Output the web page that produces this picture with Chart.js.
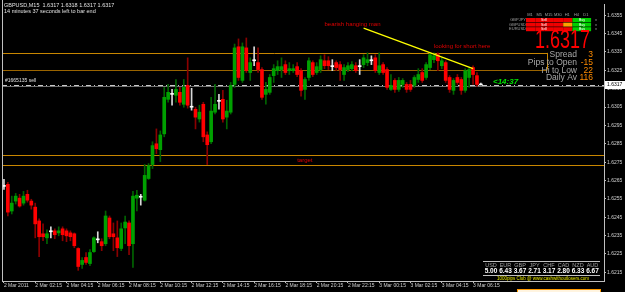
<!DOCTYPE html>
<html>
<head>
<meta charset="utf-8">
<script src="https://cdn.jsdelivr.net/npm/chart.js@4.4.1/dist/chart.umd.min.js"></script>
<style>
  html, body { margin: 0; padding: 0; background: #000; }
  canvas { display: block; }
</style>
</head>
<body>
<canvas id="chart" width="625" height="292"></canvas>
<script>
'use strict';

// GBPUSD M15, 2 Mar 2011 00:15 .. 3 Mar 2011 06:45 (one value per candle)
const open = [
    1.62618, 1.62629, 1.62484, 1.62538, 1.62554, 1.62527, 1.62575, 1.62538, 1.62505, 1.62430,
    1.62360, 1.62338, 1.62371, 1.62376, 1.62365, 1.62387, 1.62376, 1.62365, 1.62360, 1.62280,
    1.62193, 1.62231, 1.62198, 1.62263, 1.62327, 1.62317, 1.62306, 1.62446, 1.62360, 1.62338,
    1.62280, 1.62392, 1.62419, 1.62306, 1.62554, 1.62559, 1.62543, 1.62661, 1.62737, 1.62850,
    1.62818, 1.62904, 1.63092, 1.63119, 1.63114, 1.63130, 1.63065, 1.63168, 1.63049, 1.63038,
    1.62985, 1.63065, 1.62898, 1.62861, 1.63022, 1.63081, 1.63092, 1.62995, 1.63022, 1.63173,
    1.63378, 1.63195, 1.63372, 1.63238, 1.63302, 1.63292, 1.63254, 1.63119, 1.63130, 1.63221,
    1.63248, 1.63254, 1.63281, 1.63248, 1.63248, 1.63270, 1.63248, 1.63146, 1.63211, 1.63292,
    1.63238, 1.63254, 1.63302, 1.63302, 1.63270, 1.63292, 1.63281, 1.63227, 1.63254, 1.63259,
    1.63275, 1.63270, 1.63281, 1.63292, 1.63302, 1.63318, 1.63238, 1.63281, 1.63254, 1.63146,
    1.63195, 1.63146, 1.63173, 1.63173, 1.63173, 1.63168, 1.63200, 1.63238, 1.63211, 1.63265,
    1.63308, 1.63335, 1.63275, 1.63292, 1.63211, 1.63141, 1.63211, 1.63200, 1.63141, 1.63211,
    1.63265, 1.63221, 1.63170
];
const high = [
    1.62656, 1.62640, 1.62565, 1.62580, 1.62575, 1.62591, 1.62597, 1.62548, 1.62527, 1.62441,
    1.62414, 1.62381, 1.62398, 1.62387, 1.62398, 1.62398, 1.62387, 1.62376, 1.62365, 1.62284,
    1.62231, 1.62258, 1.62274, 1.62344, 1.62371, 1.62333, 1.62484, 1.62457, 1.62419, 1.62430,
    1.62419, 1.62457, 1.62430, 1.62591, 1.62597, 1.62575, 1.62737, 1.62742, 1.62861, 1.62931,
    1.62920, 1.63157, 1.63173, 1.63146, 1.63200, 1.63157, 1.63200, 1.63318, 1.63152, 1.63049,
    1.63060, 1.63076, 1.62915, 1.63103, 1.63173, 1.63119, 1.63141, 1.63087, 1.63184, 1.63393,
    1.63421, 1.63399, 1.63426, 1.63318, 1.63378, 1.63372, 1.63265, 1.63184, 1.63227, 1.63281,
    1.63302, 1.63318, 1.63302, 1.63292, 1.63281, 1.63292, 1.63259, 1.63211, 1.63318, 1.63302,
    1.63292, 1.63329, 1.63335, 1.63324, 1.63308, 1.63302, 1.63297, 1.63281, 1.63292, 1.63297,
    1.63292, 1.63308, 1.63335, 1.63345, 1.63329, 1.63335, 1.63345, 1.63292, 1.63265, 1.63227,
    1.63205, 1.63211, 1.63205, 1.63184, 1.63195, 1.63221, 1.63259, 1.63259, 1.63292, 1.63345,
    1.63345, 1.63345, 1.63318, 1.63302, 1.63221, 1.63205, 1.63227, 1.63211, 1.63259, 1.63265,
    1.63275, 1.63238, 1.63180
];
const low = [
    1.62602, 1.62457, 1.62468, 1.62522, 1.62505, 1.62516, 1.62532, 1.62494, 1.62338, 1.62236,
    1.62322, 1.62306, 1.62338, 1.62333, 1.62349, 1.62322, 1.62317, 1.62322, 1.62284, 1.62161,
    1.62172, 1.62193, 1.62187, 1.62258, 1.62311, 1.62268, 1.62295, 1.62333, 1.62268, 1.62236,
    1.62268, 1.62306, 1.62247, 1.62177, 1.62484, 1.62516, 1.62538, 1.62656, 1.62715, 1.62796,
    1.62753, 1.62888, 1.63076, 1.63060, 1.63076, 1.63060, 1.63049, 1.63044, 1.63033, 1.62931,
    1.62968, 1.62861, 1.62737, 1.62850, 1.63012, 1.63038, 1.62968, 1.62931, 1.63012, 1.63157,
    1.63195, 1.63184, 1.63238, 1.63195, 1.63275, 1.63238, 1.63092, 1.63065, 1.63119, 1.63184,
    1.63227, 1.63211, 1.63227, 1.63227, 1.63238, 1.63216, 1.63109, 1.63092, 1.63195, 1.63216,
    1.63227, 1.63238, 1.63259, 1.63254, 1.63248, 1.63248, 1.63195, 1.63195, 1.63243, 1.63248,
    1.63238, 1.63227, 1.63265, 1.63275, 1.63281, 1.63238, 1.63227, 1.63227, 1.63146, 1.63141,
    1.63130, 1.63135, 1.63157, 1.63130, 1.63135, 1.63157, 1.63184, 1.63184, 1.63200, 1.63254,
    1.63292, 1.63248, 1.63259, 1.63184, 1.63130, 1.63119, 1.63173, 1.63119, 1.63130, 1.63157,
    1.63173, 1.63162, 1.63170
];
const close = [
    1.62618, 1.62478, 1.62527, 1.62565, 1.62511, 1.62565, 1.62543, 1.62516, 1.62414, 1.62344,
    1.62344, 1.62360, 1.62371, 1.62355, 1.62376, 1.62355, 1.62349, 1.62344, 1.62295, 1.62182,
    1.62215, 1.62204, 1.62258, 1.62338, 1.62327, 1.62295, 1.62457, 1.62344, 1.62344, 1.62284,
    1.62387, 1.62424, 1.62295, 1.62565, 1.62570, 1.62559, 1.62678, 1.62731, 1.62840, 1.62823,
    1.62898, 1.63103, 1.63130, 1.63119, 1.63146, 1.63076, 1.63157, 1.63060, 1.63049, 1.62995,
    1.63022, 1.62888, 1.62845, 1.63028, 1.63065, 1.63081, 1.62985, 1.63028, 1.63168, 1.63372,
    1.63211, 1.63378, 1.63248, 1.63292, 1.63302, 1.63254, 1.63103, 1.63146, 1.63211, 1.63259,
    1.63270, 1.63270, 1.63238, 1.63259, 1.63259, 1.63227, 1.63141, 1.63200, 1.63302, 1.63227,
    1.63270, 1.63308, 1.63275, 1.63275, 1.63270, 1.63265, 1.63254, 1.63265, 1.63275, 1.63281,
    1.63248, 1.63270, 1.63318, 1.63308, 1.63302, 1.63248, 1.63275, 1.63238, 1.63157, 1.63168,
    1.63146, 1.63195, 1.63195, 1.63146, 1.63146, 1.63211, 1.63227, 1.63195, 1.63281, 1.63335,
    1.63329, 1.63302, 1.63302, 1.63195, 1.63146, 1.63195, 1.63184, 1.63141, 1.63248, 1.63254,
    1.63227, 1.63173, 1.63170
];

// time axis: one label every 8 bars (2 hours)
const tickLabels = [
    '2 Mar 2011', '2 Mar 02:15', '2 Mar 04:15', '2 Mar 06:15', '2 Mar 08:15', '2 Mar 10:15',
    '2 Mar 12:15', '2 Mar 14:15', '2 Mar 16:15', '2 Mar 18:15', '2 Mar 20:15', '2 Mar 22:15',
    '3 Mar 00:15', '3 Mar 02:15', '3 Mar 04:15', '3 Mar 06:15'
];
const barsPerTick = 8;
const shiftBars = 31;       // empty space right of the last candle

const priceTicks = [
    1.6215, 1.6225, 1.6235, 1.6245, 1.6255, 1.6265, 1.6275, 1.6285,
    1.6295, 1.6305, 1.6315, 1.6325, 1.6335, 1.6345, 1.6355
];
const priceMin = 1.62103;
const priceMax = 1.63611;

// drawn objects
const bidPrice = 1.6317;
const orderPrice = 1.63162;
const boxTop = 1.63345;
const boxBottom = 1.63254;
const boxEndBar = 139;
const targetLevels = [1.62791, 1.62732];
const trendFrom = [92, 1.63480];
const trendTo = [120, 1.63259];
const notes = [
    { text: 'bearish hanging man', bar: 82, price: 1.63502 },
    { text: 'looking for short here', bar: 110, price: 1.63378 },
    { text: 'target', bar: 75, price: 1.62758 }
];

// info panels
const currencies = ['USD', 'EUR', 'GBP', 'JPY', 'CHF', 'CAD', 'NZD', 'AUD'];
const strength = ['5.00', '6.43', '3.67', '2.71', '3.17', '2.80', '6.33', '6.67'];
const statNames = ['Spread', 'Pips to Open', 'Hi to Low', 'Daily Av'];
const statValues = ['3', '-15', '22', '116'];
const trendFrames = ['M1', 'M5', 'M15', 'M30', 'H1', 'H4', 'D1'];
const trendPairs = ['GBPJPY', 'GBPUSD', 'EURUSD'];
// per pair: colour of each timeframe cell (r = down, y = flat, g = up)
const trendCells = [
    ['r', 'r', 'r', 'r', 'r', 'g', 'g'],
    ['r', 'r', 'r', 'r', 'y', 'g', 'g'],
    ['r', 'r', 'r', 'r', 'r', 'g', 'g']
];


const categories = Array.from({ length: open.length + shiftBars }, (_, i) => i);

const wickColors = [];
const bodyColors = [];
open.forEach((o, i) => {
    if (o === close[i]) {
        wickColors.push('#d8d8d8');
        bodyColors.push('#ffffff');
    } else if (close[i] > o) {
        wickColors.push('#006400');
        bodyColors.push('#00a000');
    } else {
        wickColors.push('#8b0000');
        bodyColors.push('#ff0000');
    }
});

const wicks = open.map((o, i) => [low[i], high[i]]);
const bodies = open.map((o, i) => [Math.min(o, close[i]), Math.max(o, close[i])]);

const FONT = "'Liberation Sans', Arial, sans-serif";
const cellColors = { r: '#f00000', y: '#ffa000', g: '#00d000' };


function text(ctx, str, x, y, size, color, align, weight) {
    ctx.font = `${weight || 'normal'} ${size}px ${FONT}`;
    ctx.fillStyle = color;
    ctx.textAlign = align || 'left';
    ctx.textBaseline = 'middle';
    ctx.fillText(str, x, y);
}

function hline(ctx, y, x0, x1, color, dash) {
    ctx.save();
    ctx.strokeStyle = color;
    ctx.lineWidth = 1;
    ctx.setLineDash(dash || []);
    ctx.beginPath();
    ctx.moveTo(x0, Math.round(y) + 0.5);
    ctx.lineTo(x1, Math.round(y) + 0.5);
    ctx.stroke();
    ctx.restore();
}


// lines behind the candles
const backObjects = {
    id: 'backObjects',
    beforeDatasetsDraw(chart) {
        const { ctx, chartArea: a, scales: { x, y } } = chart;
        ctx.save();

        // rectangle (open on the left)
        const xr = x.getPixelForValue(boxEndBar);
        hline(ctx, y.getPixelForValue(boxTop), a.left, xr, '#c88600');
        hline(ctx, y.getPixelForValue(boxBottom), a.left, xr, '#9a6400');
        ctx.strokeStyle = '#c88600';
        ctx.beginPath();
        ctx.moveTo(Math.round(xr) + 0.5, y.getPixelForValue(boxTop));
        ctx.lineTo(Math.round(xr) + 0.5, y.getPixelForValue(boxBottom));
        ctx.stroke();

        targetLevels.forEach(p => hline(ctx, y.getPixelForValue(p), a.left, a.right, '#c88600'));

        // order line and bid line
        hline(ctx, y.getPixelForValue(orderPrice), a.left, a.right, '#707070');
        hline(ctx, y.getPixelForValue(bidPrice), a.left, a.right, '#c8c8c8', [5, 3, 1, 3]);

        ctx.restore();
    }
};


// labels, trend line and panels on top
const frontObjects = {
    id: 'frontObjects',
    afterDatasetsDraw(chart) {
        const { ctx, chartArea: a, scales: { x, y } } = chart;
        ctx.save();

        // frame on the left
        ctx.strokeStyle = '#c0c0c0';
        ctx.beginPath();
        ctx.moveTo(a.left + 0.5, 0);
        ctx.lineTo(a.left + 0.5, a.bottom);
        ctx.stroke();

        // trend line
        ctx.strokeStyle = '#ffff00';
        ctx.lineWidth = 1.3;
        ctx.beginPath();
        ctx.moveTo(x.getPixelForValue(trendFrom[0]), y.getPixelForValue(trendFrom[1]));
        ctx.lineTo(x.getPixelForValue(trendTo[0]), y.getPixelForValue(trendTo[1]));
        ctx.stroke();
        ctx.lineWidth = 1;

        notes.forEach(n => {
            text(ctx, n.text, x.getPixelForValue(n.bar), y.getPixelForValue(n.price), 6, '#e00000');
        });

        // header
        text(ctx, 'GBPUSD,M15  1.6317 1.6318 1.6317 1.6317', a.left + 2, 5, 5.5, '#e0e0e0');
        text(ctx, '14 minutes 37 seconds left to bar end', a.left + 2, 11, 5.5, '#e0e0e0');

        const yBid = y.getPixelForValue(bidPrice);
        text(ctx, '#1665135 sell', a.left + 3, yBid - 4, 5, '#e0e0e0');
        text(ctx, '<14:37', 493, yBid - 3, 8, '#00e000', 'left', 'italic bold');

        // bid price on the axis
        ctx.fillStyle = '#ffffff';
        ctx.fillRect(a.right + 1, Math.round(yBid) - 4, 20, 8);
        text(ctx, bidPrice.toFixed(4), a.right + 3, Math.round(yBid), 5, '#000000');

        // trend table
        trendFrames.forEach((f, j) => {
            text(ctx, f, 530 + j * 9.3, 15, 4, '#a0a0a0', 'center');
        });
        trendPairs.forEach((p, i) => {
            const yy = 18 + i * 4.6;
            text(ctx, p, 526, yy + 2, 4, '#a0a0a0', 'right');
            trendCells[i].forEach((c, j) => {
                ctx.fillStyle = cellColors[c];
                ctx.fillRect(526 + j * 9.3, yy, 9.3, 4);
            });
            text(ctx, 'Sell', 544, yy + 2, 3.5, '#ffffff', 'center');
            text(ctx, 'Buy', 582, yy + 2, 3.5, '#ffffff', 'center');
            text(ctx, 'v', 595, yy + 2, 4, '#a0a0a0', 'left');
        });

        // price panel
        ctx.save();
        ctx.translate(590, 41);
        ctx.scale(0.72, 1);
        text(ctx, bidPrice.toFixed(4), 0, 0, 25, '#ff0000', 'right');
        ctx.restore();
        statNames.forEach((s, i) => {
            const yy = 55 + i * 7.7;
            text(ctx, s, 577, yy, 8.5, '#a8a8a8', 'right');
            text(ctx, statValues[i], 593, yy, 8.5, '#ff8c00', 'right');
        });

        // currency strength table
        ctx.fillStyle = '#c0c0c0';
        ctx.fillRect(483, 261, 117, 1);
        ctx.fillRect(483, 275, 117, 1);
        currencies.forEach((c, i) => {
            const xx = 491 + i * 14.5;
            text(ctx, c, xx, 265, 5.5, '#a0a0a0', 'center');
            text(ctx, strength[i], xx, 271, 6.5, '#ffffff', 'center', 'bold');
        });
        text(ctx, '1000pips Club @ www.cashwithoutlosers.com', 543, 279, 4.5, '#e8e800', 'center');

        ctx.restore();
    },
    afterDraw(chart) {
        // edge of a dialog peeking in at the bottom right
        const ctx = chart.ctx;
        ctx.save();
        ctx.fillStyle = '#fff4e0';
        ctx.fillRect(517, 289, 84, 3);
        ctx.strokeStyle = '#ff9a00';
        ctx.strokeRect(517.5, 289.5, 83, 4);
        ctx.restore();
    }
};


new Chart(document.getElementById('chart'), {
    type: 'bar',
    data: {
        labels: categories,
        datasets: [
            {
                data: wicks,
                backgroundColor: wickColors,
                barThickness: 1,
                grouped: false,
                order: 2
            },
            {
                data: bodies,
                backgroundColor: bodyColors,
                barThickness: 3,
                minBarLength: 1,
                grouped: false,
                order: 1
            }
        ]
    },
    options: {
        responsive: false,
        animation: false,
        events: [],
        layout: { padding: { left: 2, top: 1, right: 0, bottom: 0 } },
        plugins: { legend: { display: false }, tooltip: { enabled: false } },
        scales: {
            x: {
                grid: { display: true, drawOnChartArea: false, offset: false, color: '#c0c0c0', tickLength: 2 },
                border: { display: true, color: '#c0c0c0' },
                afterBuildTicks: scale => {
                    scale.ticks = tickLabels.map((_, k) => ({ value: k * barsPerTick }));
                },
                afterFit: scale => { scale.height = 11; },
                ticks: {
                    autoSkip: false,
                    maxRotation: 0,
                    align: 'start',
                    padding: 0,
                    color: '#d0d0d0',
                    font: { family: FONT, size: 5 },
                    callback: (val, idx) => tickLabels[idx]
                }
            },
            y: {
                position: 'right',
                min: priceMin,
                max: priceMax,
                grid: { display: true, drawOnChartArea: false, color: '#c0c0c0', tickLength: 2 },
                border: { display: true, color: '#c0c0c0' },
                afterBuildTicks: scale => {
                    scale.ticks = priceTicks.map(v => ({ value: v }));
                },
                afterFit: scale => { scale.width = 21; },
                ticks: {
                    padding: 1,
                    color: '#d0d0d0',
                    font: { family: FONT, size: 5 },
                    callback: v => v.toFixed(4)
                }
            }
        }
    },
    plugins: [backObjects, frontObjects]
});
</script>
</body>
</html>
